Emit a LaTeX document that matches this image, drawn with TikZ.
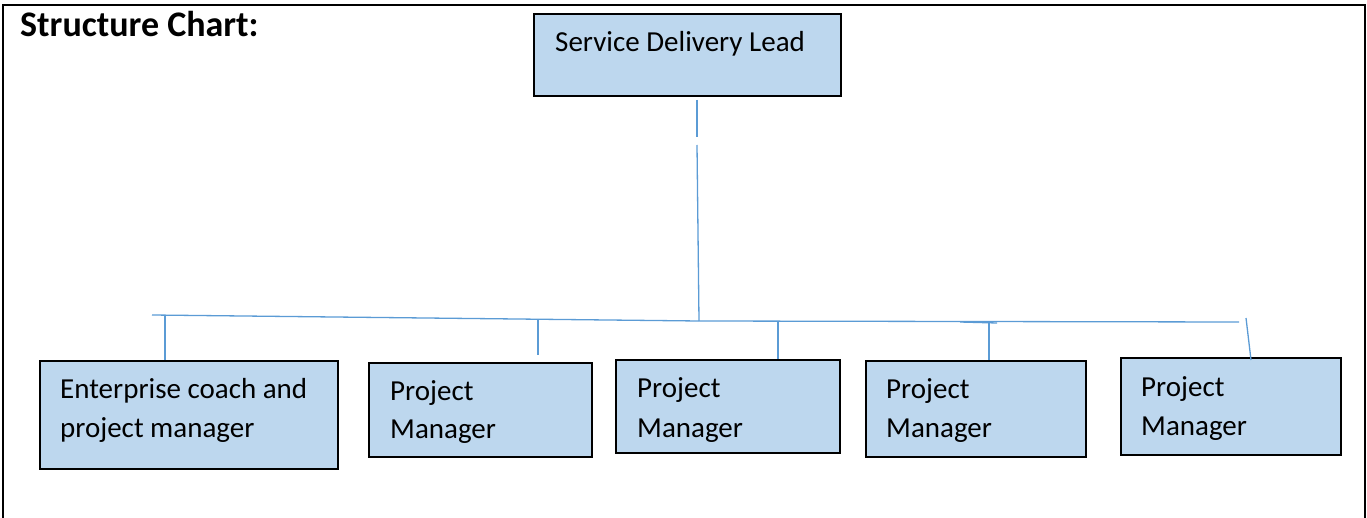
\documentclass[tikz,border=0pt]{standalone}
\usepackage{fontspec}
\setmainfont{Carlito}
\usetikzlibrary{calc}
\definecolor{boxfill}{HTML}{BDD7EE}
\definecolor{linkblue}{HTML}{5B9BD5}
\tikzset{
  orgbox/.style={draw=black, line width=1.6pt, fill=boxfill, inner sep=0pt, anchor=north west},
  boxtext/.style={anchor=base west, inner sep=0pt, font=\fontsize{29}{34}\selectfont},
  link/.style={draw=linkblue, line width=1.3pt},
}
\begin{document}
\begin{tikzpicture}[x=1pt, y=-1pt]
  \useasboundingbox (0,0) rectangle (1367,518);
  % page frame (open at the bottom)
  \draw[line width=2.6pt] (3,530) -- (3,5) -- (1365,5) -- (1365,530);

  \node[anchor=base west, inner sep=0pt, font=\bfseries\fontsize{36}{42}\selectfont] (title) at (20,37) {Structure Chart:};

  % boxes
  \node[orgbox, minimum width=307pt, minimum height=82pt] (sdl) at (533,13) {};
  \node[orgbox, minimum width=298pt, minimum height=108pt] (ec)  at (39,360) {};
  \node[orgbox, minimum width=223pt, minimum height=94pt]  (pm1) at (368,362) {};
  \node[orgbox, minimum width=224pt, minimum height=93pt]  (pm2) at (615,359) {};
  \node[orgbox, minimum width=220pt, minimum height=96pt]  (pm3) at (865,360) {};
  \node[orgbox, minimum width=220pt, minimum height=97pt]  (pm4) at (1120,357) {};

  % box labels
  \node[boxtext] (tsdl) at (555,52) {Service Delivery Lead};
  \node[boxtext] (tec1) at (60,398) {Enterprise coach and};
  \node[boxtext] (tec2) at (60,437) {project manager};
  \node[boxtext] (t1a) at (390,400) {Project};
  \node[boxtext] (t1b) at (390,438) {Manager};
  \node[boxtext] (t2a) at (637,397) {Project};
  \node[boxtext] (t2b) at (637,437) {Manager};
  \node[boxtext] (t3a) at (886,398) {Project};
  \node[boxtext] (t3b) at (886,437) {Manager};
  \node[boxtext] (t4a) at (1141,396) {Project};
  \node[boxtext] (t4b) at (1141,435) {Manager};

  % connector points
  \coordinate (v0) at (697,100);
  \coordinate (v1) at (697,137);
  \coordinate (v2) at (697,145);
  \coordinate (hub) at (699,321);
  \coordinate (busL) at (152,315);
  \coordinate (busR) at (1239,322);
  \coordinate (b0) at (165,316);
  \coordinate (b1) at (538,320);
  \coordinate (b2) at (778,321);
  \coordinate (b3) at (989,322);
  \coordinate (b4) at (1246,318);

  % trunk from the lead, drawn in two pieces
  \draw[link] (v0) -- (v1);
  \draw[link] (v2) -- (hub);
  % horizontal bus
  \draw[link] (busL) -- (hub) -- (busR);
  \draw[link] (960,322) -- (997,323);
  % drops to each box
  \draw[link] (b0) -- (b0 |- ec.north);
  \draw[link] (b1) -- (538,355);
  \draw[link] (b2) -- (b2 |- pm2.north);
  \draw[link] (b3) -- (b3 |- pm3.north);
  \draw[link] (b4) -- (1251,360);
\end{tikzpicture}
\end{document}
